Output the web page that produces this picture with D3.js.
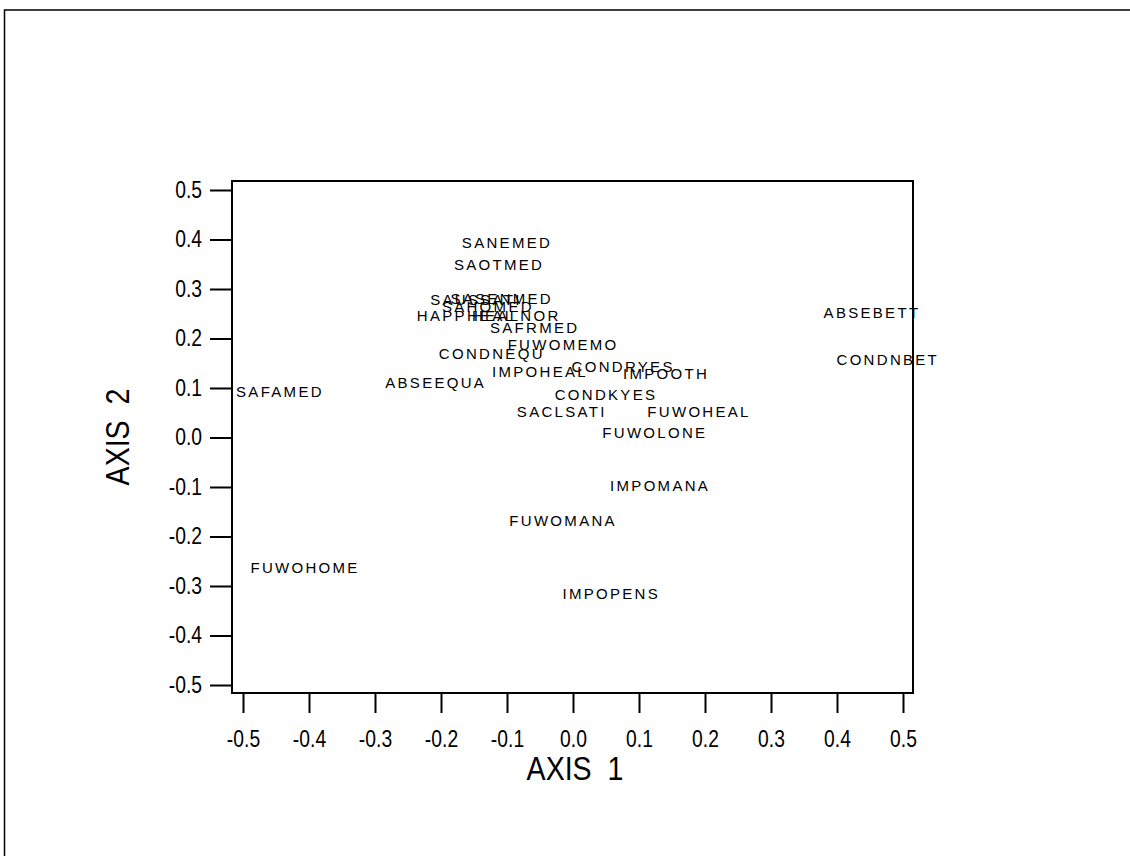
<!DOCTYPE html>
<html>
<head>
<meta charset="utf-8">
<script src="https://cdn.jsdelivr.net/npm/d3@7"></script>
<style>
  html, body { margin: 0; padding: 0; background: #fff; }
  svg { display: block; }
</style>
</head>
<body>
<script>
// Category scores on the first two axes (label centre positions)
const labels = ["SANEMED","SAOTMED","SAUSSATI","SASENMED","SAHOMED","HAPPHEAL","HEALNOR",
  "SAFRMED","FUWOMEMO","CONDNEQU","IMPOHEAL","CONDRYES","IMPOOTH","ABSEEQUA","CONDKYES",
  "SACLSATI","FUWOHEAL","FUWOLONE","IMPOMANA","FUWOMANA","IMPOPENS","FUWOHOME","SAFAMED",
  "ABSEBETT","CONDNBET"];
const axis1 = [-0.100,-0.112,-0.147,-0.108,-0.129,-0.162,-0.086,
  -0.058,-0.015,-0.123,-0.050,0.076,0.141,-0.208,0.050,
  -0.017,0.191,0.124,0.132,-0.015,0.058,-0.406,-0.444,
  0.453,0.477];
const axis2 = [0.391,0.347,0.276,0.278,0.262,0.243,0.243,
  0.219,0.185,0.167,0.130,0.140,0.126,0.108,0.084,
  0.049,0.049,0.007,-0.100,-0.171,-0.318,-0.266,0.090,
  0.249,0.155];

const xTicks = [-0.5,-0.4,-0.3,-0.2,-0.1,0.0,0.1,0.2,0.3,0.4,0.5];
const xTickLabels = ["-0.5","-0.4","-0.3","-0.2","-0.1","0.0","0.1","0.2","0.3","0.4","0.5"];
const yTicks = [0.5,0.4,0.3,0.2,0.1,0.0,-0.1,-0.2,-0.3,-0.4,-0.5];
const yTickLabels = ["0.5","0.4","0.3","0.2","0.1","0.0","-0.1","-0.2","-0.3","-0.4","-0.5"];

const W = 1130, H = 856;
const svg = d3.select("body").append("svg").attr("width", W).attr("height", H);

// outer page frame
svg.append("path")
  .attr("d", "M4.5,856 L4.5,10 L1130,10")
  .attr("fill", "none").attr("stroke", "#000").attr("stroke-width", 1.5);

const x = d3.scaleLinear().domain([-0.5, 0.5]).range([243, 903]);
const y = d3.scaleLinear().domain([-0.5, 0.5]).range([685, 190]);

// plot frame
const frame = { left: 232, right: 913, top: 181, bottom: 693 };
svg.append("rect")
  .attr("x", frame.left).attr("y", frame.top)
  .attr("width", frame.right - frame.left).attr("height", frame.bottom - frame.top)
  .attr("fill", "none").attr("stroke", "#000").attr("stroke-width", 2);

const tickFont = "'Liberation Sans', Arial, sans-serif";
const squeeze = 0.84;

// narrow the tick glyphs horizontally about their anchor
function condense(sel) {
  sel.each(function () {
    const t = d3.select(this);
    const tx = +t.attr("x") || 0;
    t.attr("x", 0).attr("transform", `translate(${tx},0) scale(${squeeze},1)`);
  });
}

// vertical axis
const yAxis = d3.axisLeft(y).tickValues(yTicks)
  .tickFormat((d, i) => yTickLabels[i]).tickSize(22).tickPadding(8);
const gy = svg.append("g").attr("transform", `translate(${frame.left},0)`).call(yAxis);
gy.select(".domain").remove();
gy.selectAll(".tick line").attr("stroke", "#000").attr("stroke-width", 2);
gy.selectAll(".tick text").attr("fill", "#000")
  .style("font-family", tickFont).style("font-size", "23px").call(condense);

// horizontal axis
const xAxis = d3.axisBottom(x).tickValues(xTicks)
  .tickFormat((d, i) => xTickLabels[i]).tickSize(20).tickPadding(18);
const gx = svg.append("g").attr("transform", `translate(0,${frame.bottom})`).call(xAxis);
gx.select(".domain").remove();
gx.selectAll(".tick line").attr("stroke", "#000").attr("stroke-width", 2);
gx.selectAll(".tick text").attr("fill", "#000")
  .style("font-family", tickFont).style("font-size", "23px").call(condense);

// axis titles
svg.append("text")
  .attr("transform", `translate(575,771) scale(${squeeze},1)`)
  .attr("text-anchor", "middle").attr("dominant-baseline", "middle")
  .style("font-family", tickFont).style("font-size", "34px").style("white-space", "pre")
  .text("AXIS  1");
svg.append("text")
  .attr("transform", `translate(120,437) rotate(-90) scale(${squeeze},1)`)
  .attr("text-anchor", "middle").attr("dominant-baseline", "middle")
  .style("font-family", tickFont).style("font-size", "34px").style("white-space", "pre")
  .text("AXIS  2");

// category labels
svg.append("g").selectAll("text")
  .data(labels.map((name, i) => ({ name, a1: axis1[i], a2: axis2[i] })))
  .join("text")
  .attr("x", d => x(d.a1)).attr("y", d => y(d.a2))
  .attr("text-anchor", "middle").attr("dominant-baseline", "middle")
  .style("font-family", "'Liberation Sans', Arial, sans-serif")
  .style("font-size", "15px").style("letter-spacing", "2.3px")
  .attr("fill", "#000")
  .text(d => d.name);
</script>
</body>
</html>
